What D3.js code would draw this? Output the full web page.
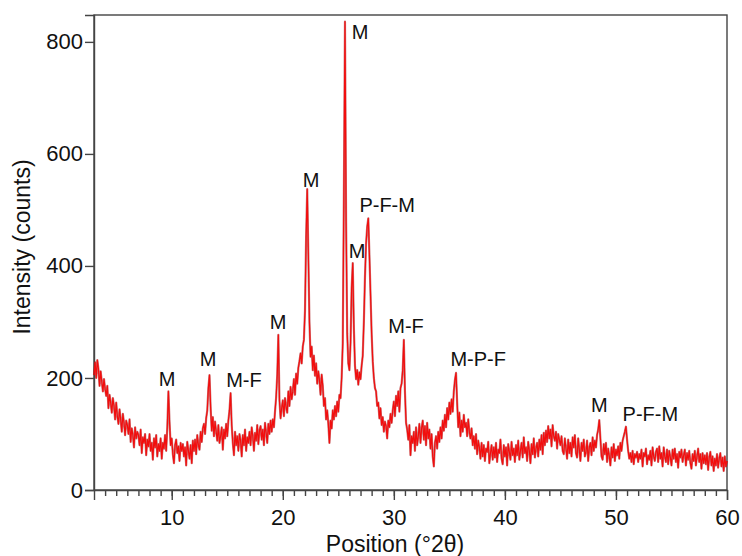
<!DOCTYPE html>
<html>
<head>
<meta charset="utf-8">
<script src="https://cdn.jsdelivr.net/npm/d3@7"></script>
<style>
  body { margin: 0; background: #fff; }
  svg text { font-family: "Liberation Sans", Arial, sans-serif; fill: #111; }
  .axis path, .axis line { stroke: #444; stroke-width: 1.4; }
</style>
</head>
<body>
<div id="chart"></div>
<script>
// Scan settings (degrees 2-theta)
var posStart = 3.0;
var posStep = 0.1;

// Intensity (counts), one value per 0.1 deg from 3.0 to 60.0
var intensity = [
  205, 228, 200, 232, 216, 186, 212, 194, 176, 198,   // 3
  180, 168, 186, 146, 170, 156, 138, 164, 150, 126,   // 4
  156, 132, 118, 144, 126, 104, 136, 120, 98, 124,    // 5
  116, 100, 126, 86, 110, 98, 76, 112, 92, 104,       // 6
  98, 80, 108, 66, 94, 84, 100, 62, 90, 78,           // 7
  100, 70, 84, 54, 92, 76, 98, 60, 82, 70,            // 8
  92, 56, 84, 74, 98, 70, 112, 176, 122, 80,          // 9
  92, 64, 48, 80, 90, 66, 78, 52, 84, 70,             // 10
  82, 60, 76, 44, 86, 70, 56, 80, 48, 88,             // 11
  70, 90, 64, 98, 80, 72, 104, 86, 110, 118,          // 12
  100, 128, 142, 182, 205, 148, 106, 130, 96, 122,    // 13
  104, 88, 116, 84, 96, 112, 72, 108, 92, 118,        // 14
  96, 124, 142, 173, 116, 84, 62, 104, 80, 96,        // 15
  70, 100, 88, 60, 98, 80, 108, 70, 94, 84,           // 16
  104, 80, 112, 96, 70, 102, 88, 116, 82, 106,        // 17
  114, 90, 108, 80, 120, 102, 84, 118, 100, 124,      // 18
  104, 126, 112, 140, 165, 205, 277, 160, 128, 146,   // 19
  160, 132, 164, 148, 138, 176, 150, 184, 162, 176,   // 20
  198, 170, 208, 190, 218, 230, 244, 226, 256, 268,   // 21
  320, 450, 537, 420, 300, 238, 256, 214, 240, 204,   // 22
  226, 190, 212, 196, 170, 206, 186, 150, 164, 126,   // 23
  142, 118, 84, 124, 110, 142, 126, 150, 132, 158,    // 24
  140, 170, 164, 200, 262, 520, 836, 480, 280, 226,   // 25
  214, 262, 360, 405, 290, 222, 198, 214, 188, 210,   // 26
  198, 222, 240, 300, 380, 440, 470, 485, 420, 350,   // 27
  280, 230, 200, 182, 176, 150, 156, 128, 146, 116,   // 28
  130, 104, 122, 114, 92, 124, 112, 136, 120, 142,    // 29
  158, 132, 168, 150, 176, 140, 182, 190, 214, 268,   // 30
  176, 120, 108, 90, 116, 62, 96, 84, 104, 70,        // 31
  112, 80, 96, 118, 84, 110, 124, 90, 114, 80,        // 32
  120, 92, 108, 74, 100, 60, 42, 84, 96, 74,          // 33
  104, 86, 112, 92, 124, 106, 134, 112, 146, 126,     // 34
  156, 136, 162, 140, 176, 196, 209, 156, 112, 138,   // 35
  96, 124, 104, 134, 112, 120, 96, 126, 104, 92,      // 36
  110, 80, 96, 74, 100, 64, 88, 76, 56, 84,           // 37
  60, 80, 52, 74, 68, 86, 48, 66, 80, 54,             // 38
  76, 58, 84, 50, 72, 66, 90, 56, 46, 80,             // 39
  60, 76, 44, 82, 68, 54, 86, 62, 74, 50,             // 40
  80, 62, 88, 54, 70, 84, 58, 94, 66, 76,             // 41
  52, 86, 70, 48, 82, 64, 92, 58, 74, 84,             // 42
  60, 90, 72, 98, 64, 102, 80, 106, 86, 114,          // 43
  92, 108, 78, 116, 96, 88, 104, 74, 100, 90,         // 44
  80, 96, 70, 64, 92, 74, 56, 90, 66, 84,             // 45
  60, 94, 76, 98, 66, 58, 92, 72, 52, 84,             // 46
  70, 90, 60, 68, 88, 52, 76, 84, 62, 94,             // 47
  70, 88, 76, 98, 108, 125, 92, 60, 54, 82,           // 48
  64, 84, 50, 74, 60, 44, 76, 58, 82, 52,             // 49
  72, 62, 78, 56, 84, 70, 88, 96, 104, 113,           // 50
  90, 70, 56, 66, 50, 70, 46, 64, 58, 68,             // 51
  50, 64, 56, 72, 42, 66, 60, 74, 46, 62,             // 52
  54, 70, 44, 76, 60, 52, 68, 74, 50, 78,             // 53
  56, 66, 42, 76, 60, 50, 72, 46, 70, 58,             // 54
  44, 72, 56, 74, 50, 64, 40, 68, 58, 72,             // 55
  50, 62, 72, 44, 66, 54, 70, 48, 38, 64,             // 56
  52, 70, 44, 60, 74, 50, 64, 38, 66, 48,             // 57
  62, 46, 66, 36, 58, 68, 44, 60, 34, 56,             // 58
  44, 64, 40, 56, 66, 42, 58, 34, 60, 42,             // 59
  52                                                   // 60
];

// Phase labels and where their text sits (deg 2-theta, counts at baseline)
var peakLabels = ["M", "M", "M-F", "M", "M", "M", "M", "P-F-M", "M-F", "M-P-F", "M", "P-F-M"];
var labelPos   = [9.58, 13.27, 16.5, 19.58, 22.55, 26.2, 26.69, 29.4, 31.1, 37.6, 48.5, 53.1];
var labelAt    = [186, 221, 184, 287, 541, 805, 414, 496, 280, 222, 139, 123];

var xTicks = [10, 20, 30, 40, 50, 60];
var yTicks = [0, 200, 400, 600, 800];

var width = 742, height = 556;
var margin = {top: 15, right: 15, bottom: 66, left: 94};
var innerW = width - margin.left - margin.right;
var innerH = height - margin.top - margin.bottom;

var data = intensity.map(function(v, i) {
  return {pos: posStart + i * posStep, value: v};
});

var x = d3.scaleLinear().domain([3, 60]).range([0, innerW]);
var y = d3.scaleLinear().domain([0, 848]).range([innerH, 0]);

var svg = d3.select("#chart").append("svg")
  .attr("width", width)
  .attr("height", height);

var g = svg.append("g")
  .attr("transform", "translate(" + margin.left + "," + margin.top + ")");

// Frame
g.append("rect")
  .attr("width", innerW)
  .attr("height", innerH)
  .attr("fill", "none")
  .attr("stroke", "#444")
  .attr("stroke-width", 1.4);

// Minor x ticks (every degree)
g.append("g")
  .attr("class", "axis")
  .attr("transform", "translate(0," + innerH + ")")
  .call(d3.axisBottom(x).tickValues(d3.range(4, 60, 1)).tickSize(6).tickFormat(""))
  .call(function(a) { a.select(".domain").remove(); });

// X axis
g.append("g")
  .attr("class", "axis")
  .attr("transform", "translate(0," + innerH + ")")
  .call(d3.axisBottom(x).tickValues(xTicks).tickSize(10).tickPadding(9))
  .call(function(a) { a.selectAll("text").attr("font-size", 22); });

// Y axis
g.append("g")
  .attr("class", "axis")
  .call(d3.axisLeft(y).tickValues(yTicks).tickSize(9).tickPadding(2))
  .call(function(a) { a.selectAll("text").attr("font-size", 22); });

// Pattern line: dark halo under a bright red core
var line = d3.line()
  .x(function(d) { return x(d.pos); })
  .y(function(d) { return y(d.value); });

g.append("path")
  .datum(data)
  .attr("fill", "none")
  .attr("stroke", "#a30d10")
  .attr("stroke-width", 2.2)
  .attr("stroke-opacity", 0.55)
  .attr("stroke-linejoin", "round")
  .attr("d", line);

g.append("path")
  .datum(data)
  .attr("fill", "none")
  .attr("stroke", "#f20d0d")
  .attr("stroke-width", 1.2)
  .attr("stroke-linejoin", "round")
  .attr("d", line);

// Peak labels
g.selectAll(".peak-label")
  .data(peakLabels)
  .enter().append("text")
  .attr("class", "peak-label")
  .attr("font-size", 20)
  .attr("text-anchor", function(d, i) { return i === 5 ? "start" : "middle"; })
  .attr("x", function(d, i) { return x(labelPos[i]); })
  .attr("y", function(d, i) { return y(labelAt[i]); })
  .text(function(d) { return d; });

// Axis titles
svg.append("text")
  .attr("x", 395)
  .attr("y", 552)
  .attr("text-anchor", "middle")
  .attr("font-size", 23)
  .text("Position (°2θ)");

svg.append("text")
  .attr("transform", "translate(30,247) rotate(-90)")
  .attr("text-anchor", "middle")
  .attr("font-size", 23)
  .text("Intensity (counts)");
</script>
</body>
</html>
